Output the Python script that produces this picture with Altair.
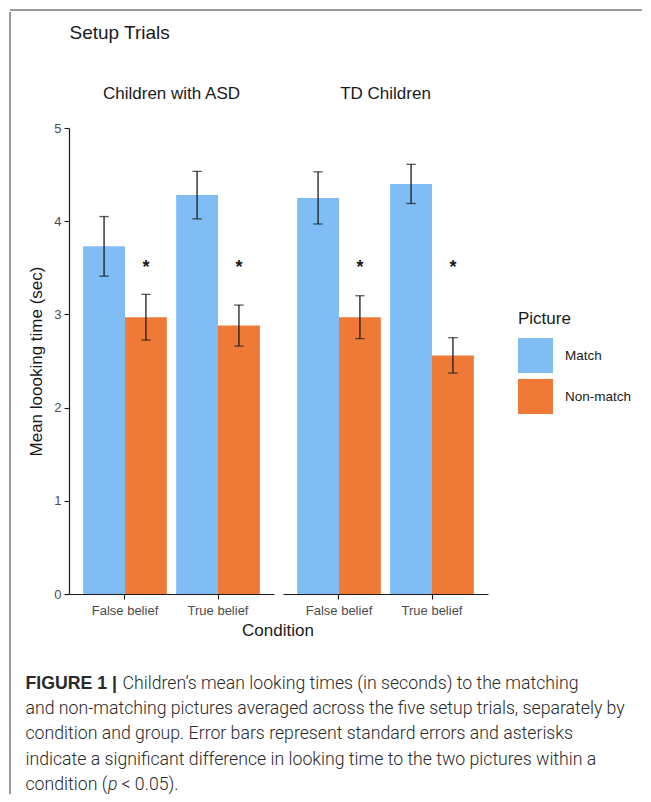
import altair as alt
import pandas as pd

# ---- data ----
groups = ["Children with ASD"] * 4 + ["TD Children"] * 4
conditions = ["False belief", "False belief", "True belief", "True belief"] * 2
pictures = ["Match", "Non-match"] * 4
means = [3.73, 2.97, 4.28, 2.88, 4.25, 2.97, 4.40, 2.56]
ses = [0.32, 0.245, 0.255, 0.22, 0.28, 0.23, 0.21, 0.19]
star_y = [None, 3.55, None, 3.55, None, 3.55, None, 3.55]

group_order = ["Children with ASD", "TD Children"]
condition_order = ["False belief", "True belief"]
picture_order = ["Match", "Non-match"]
picture_colors = ["#80BDF4", "#EF7A38"]

caption_lines = [
    "Children\u2019s mean looking times (in seconds) to the matching",
    "and non-matching pictures averaged across the five setup trials, separately by",
    "condition and group. Error bars represent standard errors and asterisks",
    "indicate a significant difference in looking time to the two pictures within a",
]

df = pd.DataFrame({
    "Group": groups,
    "Condition": conditions,
    "Picture": pictures,
    "mean": means,
    "se": ses,
    "star": star_y,
})
df["lo"] = df["mean"] - df["se"]
df["hi"] = df["mean"] + df["se"]

FONT = "Liberation Sans"
CAP_FONT = "Roboto"
CAP_SIZE = 17.7
CAP_COLOR = "#2a2a2a"
FRAME = "#7a7a7a"

x_enc = alt.X(
    "Condition:N", sort=condition_order, title=None,
    scale=alt.Scale(paddingInner=0.1, paddingOuter=0.152),
    axis=alt.Axis(labelAngle=0, labelFontSize=13, labelColor="#4d4d4d",
                  labelFont=FONT, labelPadding=5, tickSize=5, tickColor="#1a1a1a",
                  domainColor="#1a1a1a", domainWidth=1.2, tickWidth=1.1),
)
xo_enc = alt.XOffset("Picture:N", sort=picture_order,
                     scale=alt.Scale(paddingInner=0, paddingOuter=0))
y_scale = alt.Scale(domain=[0, 5], nice=False, zero=True)
y_enc = alt.Y(
    "mean:Q", scale=y_scale, title="Mean loooking time (sec)",
    axis=alt.Axis(values=[0, 1, 2, 3, 4, 5], format="d", grid=False, labelFontSize=13,
                  labelColor="#4d4d4d", labelFont=FONT, labelPadding=3, tickSize=5,
                  tickColor="#1a1a1a", domainColor="#1a1a1a", domainWidth=1.2,
                  tickWidth=1.1, titleFontSize=17, titleFont=FONT,
                  titleFontWeight="normal", titleColor="#1a1a1a", titlePadding=8),
)

base = alt.Chart()

bars = base.mark_bar(strokeWidth=0).encode(
    x=x_enc,
    xOffset=xo_enc,
    y=y_enc,
    color=alt.Color(
        "Picture:N", sort=picture_order,
        scale=alt.Scale(domain=picture_order, range=picture_colors),
        legend=alt.Legend(
            title="Picture", orient="none", legendX=449, legendY=183,
            titleFontSize=17, titleFont=FONT, titleFontWeight="normal",
            titleColor="#1a1a1a", titlePadding=10, labelFontSize=13.5,
            labelFont=FONT, labelColor="#1a1a1a", symbolType="square",
            symbolSize=1225, symbolStrokeWidth=0, symbolOpacity=1,
            rowPadding=6, labelOffset=12,
        ),
    ),
)

err_rule = base.mark_rule(color="#1a1a1a", strokeWidth=1.3).encode(
    x=alt.X("Condition:N", sort=condition_order),
    xOffset=xo_enc,
    y=alt.Y("lo:Q", scale=y_scale),
    y2="hi:Q",
)
err_lo = base.mark_tick(color="#1a1a1a", thickness=1.3, size=9.5).encode(
    x=alt.X("Condition:N", sort=condition_order),
    xOffset=xo_enc,
    y=alt.Y("lo:Q", scale=y_scale),
)
err_hi = base.mark_tick(color="#1a1a1a", thickness=1.3, size=9.5).encode(
    x=alt.X("Condition:N", sort=condition_order),
    xOffset=xo_enc,
    y=alt.Y("hi:Q", scale=y_scale),
)
stars = base.mark_text(text="*", fontSize=18, fontWeight="bold", font=FONT,
                       color="#1a1a1a", baseline="alphabetic", dy=10).encode(
    x=alt.X("Condition:N", sort=condition_order),
    xOffset=xo_enc,
    y=alt.Y("star:Q", scale=y_scale),
).transform_filter("isValid(datum.star)")

panel = alt.layer(bars, err_rule, err_lo, err_hi, stars, data=df).properties(
    width=205, height=466
).facet(
    column=alt.Column(
        "Group:N", sort=group_order,
        header=alt.Header(title=None, labelFontSize=17, labelFont=FONT,
                          labelColor="#1a1a1a", labelPadding=25),
    ),
    spacing=9,
)

# ---- title, caption, frame ----
title_chart = alt.Chart(pd.DataFrame({"t": ["Setup Trials"]})).mark_text(
    align="left", baseline="middle", fontSize=19, font=FONT, color="#1a1a1a"
).encode(text="t:N", x=alt.value(0.5), y=alt.value(21)).properties(width=200, height=69)

CAP_X = -43.5
cond_title = alt.Chart(pd.DataFrame({"t": ["Condition"]})).mark_text(
    align="center", baseline="middle", fontSize=17, font=FONT, color="#1a1a1a"
).encode(text="t:N", x=alt.value(209), y=alt.value(8.5))

cap_df = pd.DataFrame({"t": caption_lines})
cap_df["y"] = [61.7, 87.0, 112.3, 137.6]
cap_df["x"] = [CAP_X + 97, CAP_X, CAP_X, CAP_X]

cap_text = alt.Chart(cap_df).mark_text(
    align="left", baseline="middle", fontSize=CAP_SIZE, font=CAP_FONT, fontWeight=300,
    color=CAP_COLOR
).encode(text="t:N", x=alt.X("x:Q", scale=None), y=alt.Y("y:Q", scale=None))

cap_bold = alt.Chart(pd.DataFrame({"t": ["FIGURE 1 |"]})).mark_text(
    align="left", baseline="middle", fontSize=CAP_SIZE, font=FONT, fontWeight="bold",
    color=CAP_COLOR
).encode(text="t:N", x=alt.value(CAP_X), y=alt.value(61.7))

last_parts = pd.DataFrame({
    "t": ["condition (", "p", " < 0.05)."],
    "x": [CAP_X, CAP_X + 82.5, CAP_X + 96],
    "style": ["normal", "italic", "normal"],
})
cap_last_n = alt.Chart(last_parts).transform_filter("datum.style == 'normal'").mark_text(
    align="left", baseline="middle", fontSize=CAP_SIZE, font=CAP_FONT, fontWeight=300,
    color=CAP_COLOR
).encode(text="t:N", x=alt.X("x:Q", scale=None), y=alt.value(162.9))
cap_last_i = alt.Chart(last_parts).transform_filter("datum.style == 'italic'").mark_text(
    align="left", baseline="middle", fontSize=CAP_SIZE, font=CAP_FONT, fontWeight=300,
    fontStyle="italic", color=CAP_COLOR
).encode(text="t:N", x=alt.X("x:Q", scale=None), y=alt.value(162.9))

caption = alt.layer(cond_title, cap_bold, cap_text, cap_last_n, cap_last_i).properties(
    width=480, height=166
)

one = pd.DataFrame({"k": [0]})
left_line = alt.Chart(one).mark_rule(color=FRAME, strokeWidth=1.5).encode(
    x=alt.value(0), y=alt.value(0), y2=alt.value(782)
).properties(width=1, height=782)
top_line = alt.Chart(one).mark_rule(color=FRAME, strokeWidth=1.5).encode(
    x=alt.value(0), x2=alt.value(632), y=alt.value(0)
).properties(width=632, height=1)

inner = alt.vconcat(title_chart, panel, caption, spacing=4).resolve_scale(color="independent")
middle = alt.hconcat(left_line, inner, spacing=14).resolve_scale(color="independent")
chart = alt.vconcat(top_line, middle, spacing=0).resolve_scale(
    color="independent"
).properties(
    padding={"left": 1, "top": 1, "right": 0, "bottom": 0},
    background="white",
).configure(font=FONT).configure_view(stroke="transparent", strokeWidth=0)

chart.save("out.html", embed_options={"renderer": "svg", "actions": False})
